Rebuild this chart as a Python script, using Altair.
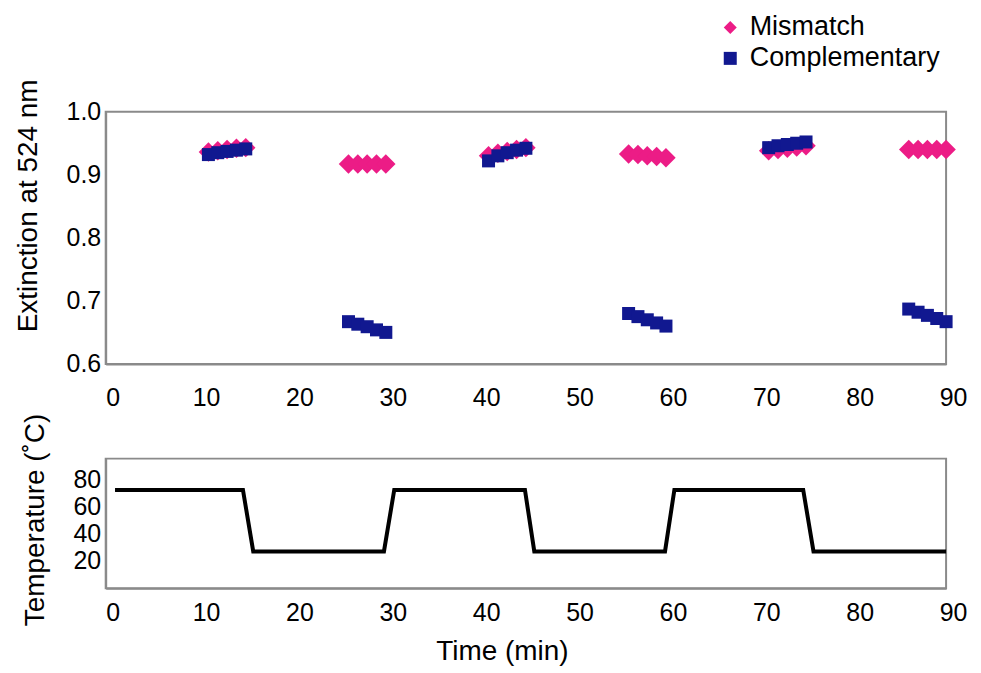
import altair as alt
import pandas as pd

# ---- data ----
series_names = ["Mismatch", "Complementary"]

mismatch_time = [11, 12, 13, 14, 15,
                 26, 27, 28, 29, 30,
                 41, 42, 43, 44, 45,
                 56, 57, 58, 59, 60,
                 71, 72, 73, 74, 75,
                 86, 87, 88, 89, 90]
mismatch_ext = [0.936, 0.938, 0.940, 0.942, 0.943,
                0.917, 0.917, 0.917, 0.917, 0.917,
                0.930, 0.934, 0.937, 0.940, 0.943,
                0.933, 0.932, 0.930, 0.929, 0.927,
                0.938, 0.940, 0.942, 0.944, 0.946,
                0.940, 0.940, 0.940, 0.940, 0.940]

comp_time = [11, 12, 13, 14, 15,
             26, 27, 28, 29, 30,
             41, 42, 43, 44, 45,
             56, 57, 58, 59, 60,
             71, 72, 73, 74, 75,
             86, 87, 88, 89, 90]
comp_ext = [0.932, 0.935, 0.937, 0.939, 0.941,
            0.667, 0.663, 0.659, 0.654, 0.650,
            0.922, 0.930, 0.935, 0.939, 0.942,
            0.680, 0.675, 0.670, 0.665, 0.660,
            0.943, 0.946, 0.948, 0.950, 0.952,
            0.687, 0.682, 0.677, 0.672, 0.667]

temp_time = [1, 14.7, 15.8, 29.8, 30.9, 44.9, 45.9, 59.9, 60.9, 74.7, 75.8, 90]
temp_val = [72, 72, 27, 27, 72, 72, 27, 27, 72, 72, 27, 27]

x_ticks = [0, 10, 20, 30, 40, 50, 60, 70, 80, 90]
ext_ticks = [0.6, 0.7, 0.8, 0.9, 1.0]
temp_ticks = [20, 40, 60, 80]

PINK = "#EC1C86"
NAVY = "#111890"
GRAY = "#8a8a8a"
FONT = "Liberation Sans"
W = 843

df_m = pd.DataFrame({"time": mismatch_time, "ext": mismatch_ext, "series": series_names[0]})
df_c = pd.DataFrame({"time": comp_time, "ext": comp_ext, "series": series_names[1]})
df_t = pd.DataFrame({"time": temp_time, "temp": temp_val})

x_top = alt.X("time:Q", scale=alt.Scale(domain=[0, 90], nice=False),
              axis=alt.Axis(values=x_ticks, title=None, labelPadding=22, ticks=False,
                            labelOffset=7, labelFlush=False))
y_top = alt.Y("ext:Q", scale=alt.Scale(domain=[0.6, 1.0], nice=False, zero=False),
              axis=alt.Axis(values=ext_ticks, format=".1f", title="Extinction at 524 nm",
                            ticks=False, labelPadding=5, titlePadding=24, titleY=94))
legend = alt.Legend(title=None, orient="none", legendX=613, legendY=-98,
                    labelFontSize=27, symbolSize=170, rowPadding=3,
                    labelOffset=6, padding=0, labelLimit=400)
color = alt.Color("series:N", scale=alt.Scale(domain=series_names, range=[PINK, NAVY]),
                  legend=legend)
shape = alt.Shape("series:N", scale=alt.Scale(domain=series_names, range=["diamond", "square"]),
                  legend=legend)

mis = alt.Chart(df_m).mark_point(filled=True, opacity=1, size=380).encode(
    x=x_top, y=y_top, color=color, shape=shape)
comp = alt.Chart(df_c).mark_point(filled=True, opacity=1, size=170).encode(
    x=x_top, y=y_top, color=color, shape=shape)

top = alt.layer(mis, comp).properties(width=W, height=253)

bottom = alt.Chart(df_t).mark_line(color="black", strokeWidth=4).encode(
    x=alt.X("time:Q", scale=alt.Scale(domain=[0, 90], nice=False),
            axis=alt.Axis(values=x_ticks, title="Time (min)", labelPadding=12, ticks=False,
                          labelOffset=7, labelFlush=False, titlePadding=13,
                          titleX=W / 2 - 24)),
    y=alt.Y("temp:Q", scale=alt.Scale(domain=[0, 95], nice=False),
            axis=alt.Axis(values=temp_ticks, title="Temperature (˚C)", ticks=False,
                          labelPadding=5, titlePadding=24, titleY=61)),
).properties(width=W, height=130)

chart = alt.vconcat(top, bottom, spacing=0).properties(
    padding={"left": 5, "top": 5, "right": 5, "bottom": 0}
).configure_view(
    stroke=GRAY, strokeWidth=2
).configure_axis(
    labelFont=FONT, titleFont=FONT, labelFontSize=25, titleFontSize=28,
    titleFontWeight="normal", labelColor="black", titleColor="black",
    domainColor=GRAY, domainWidth=2, grid=False
).configure_legend(
    labelFont=FONT, labelColor="black"
)

chart.save("out.html", embed_options={"renderer": "svg", "actions": False})
